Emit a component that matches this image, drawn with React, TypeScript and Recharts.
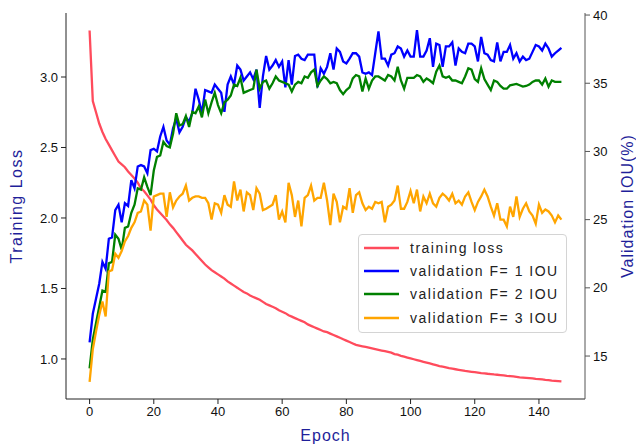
import { LineChart, Line, XAxis, YAxis, Legend, Label } from "recharts";

// training loss per epoch (left axis)
const trainingLoss = [
  3.33, 2.83, 2.75, 2.67, 2.61, 2.56, 2.52, 2.48, 2.44, 2.4,
  2.38, 2.36, 2.33, 2.305, 2.28, 2.25, 2.21, 2.19, 2.16, 2.13,
  2.09, 2.06, 2.035, 2.01, 1.985, 1.955, 1.93, 1.9, 1.87, 1.84,
  1.81, 1.79, 1.77, 1.745, 1.72, 1.695, 1.67, 1.65, 1.63, 1.615,
  1.6, 1.585, 1.57, 1.55, 1.535, 1.52, 1.505, 1.49, 1.475, 1.465,
  1.45, 1.44, 1.43, 1.42, 1.405, 1.39, 1.38, 1.37, 1.36, 1.345,
  1.335, 1.325, 1.31, 1.3, 1.29, 1.28, 1.27, 1.26, 1.245, 1.235,
  1.225, 1.215, 1.205, 1.195, 1.19, 1.18, 1.17, 1.16, 1.15, 1.14,
  1.13, 1.12, 1.11, 1.1, 1.095, 1.09, 1.085, 1.08, 1.075, 1.07,
  1.065, 1.06, 1.055, 1.05, 1.045, 1.035, 1.03, 1.022, 1.016, 1.01,
  1.004, 0.998, 0.992, 0.986, 0.98, 0.974, 0.968, 0.962, 0.956, 0.95,
  0.945, 0.94, 0.935, 0.931, 0.927, 0.923, 0.919, 0.915, 0.912, 0.909,
  0.906, 0.903, 0.9, 0.898, 0.895, 0.893, 0.89, 0.888, 0.886, 0.883,
  0.88, 0.878, 0.876, 0.873, 0.87, 0.868, 0.866, 0.864, 0.862, 0.859,
  0.857, 0.855, 0.852, 0.85, 0.847, 0.845, 0.843, 0.841,
];

// validation IOU (%) for F = 1, 2, 3 (right axis)
const iouF1 = [
  16.0, 18.1, 19.2, 20.3, 21.9, 21.4, 23.6, 23.7, 25.7, 26.1,
  24.8, 26.2, 26.0, 27.9, 27.3, 28.9, 29.0, 28.9, 28.4, 30.1,
  30.2, 30.0, 31.1, 31.8, 30.8, 30.5, 31.7, 32.4, 31.4, 31.8,
  32.5, 32.2, 32.8, 34.6, 33.8, 32.8, 34.5, 34.4, 34.3, 34.9,
  34.6, 34.3, 32.9, 34.9, 35.5, 34.9, 36.3, 36.0, 35.2, 35.5,
  35.8, 35.3, 36.0, 33.2, 35.5, 37.0, 36.0, 36.3, 36.7, 36.2,
  36.6, 34.7, 36.7, 34.9, 37.0, 37.1, 36.8, 36.7, 37.1, 37.1,
  37.1, 34.7, 36.1, 35.7, 36.2, 37.2, 36.0, 37.55, 37.3, 36.6,
  36.45, 36.8, 37.2, 37.2, 36.95, 35.8, 35.7, 35.8, 35.6, 37.2,
  38.8, 36.8, 36.8, 36.3, 37.1, 37.2, 37.7, 37.55, 36.95, 37.4,
  36.95, 36.95, 38.9, 36.95, 36.95, 37.4, 38.3, 36.2, 37.9, 37.8,
  36.2, 37.7, 37.7, 38.0, 36.3, 37.55, 37.3, 37.2, 37.9, 37.9,
  37.7, 36.6, 38.4, 37.2, 37.1, 36.7, 36.6, 38.0, 36.6, 37.3,
  37.3, 37.8, 36.8, 37.2, 36.6, 36.95, 36.7, 36.8, 37.3, 37.8,
  37.7, 37.4, 37.9, 37.55, 36.95, 37.2, 37.4, 37.6,
];

const iouF2 = [
  14.1, 16.2, 17.4, 18.6, 19.8, 19.7, 21.8, 21.9, 23.9, 23.6,
  22.8, 24.4, 24.5, 25.5, 26.1, 27.3, 27.2, 28.1, 27.4, 26.8,
  28.6, 29.6, 29.7, 30.7, 30.4, 30.3, 31.3, 32.8, 31.9, 32.0,
  32.6, 31.8, 32.9, 32.8, 33.3, 32.5, 33.8, 32.8, 33.6, 34.3,
  33.4, 32.8, 33.6, 33.8, 34.1, 34.9, 34.8, 35.4, 34.3, 34.4,
  34.5, 34.6, 36.0, 34.6, 35.1, 35.2, 34.6, 35.0, 35.5, 35.2,
  35.1, 35.0, 34.9, 34.4, 34.9, 35.1, 35.0, 35.5, 35.4, 35.8,
  36.0, 34.8, 35.2, 35.5, 35.3, 35.0, 35.1, 35.0, 34.5, 34.2,
  34.5, 34.7, 35.35, 35.6, 35.5, 34.4, 35.35, 34.6, 35.2, 35.5,
  35.5, 35.35, 35.2, 35.6, 35.5, 35.2, 36.2, 35.2, 34.6, 35.4,
  35.4, 35.4, 35.6, 35.5, 35.1, 35.35, 35.2, 35.0, 35.85, 36.3,
  35.5, 35.4, 35.5, 35.2, 35.2, 35.1, 35.0, 35.5, 36.1, 36.0,
  35.3, 35.1, 36.1, 35.3, 34.9, 34.5, 35.2, 35.1, 34.8, 34.6,
  34.6, 34.85, 34.9, 34.95, 34.85, 34.75, 34.8, 34.9, 35.1, 35.2,
  35.2, 34.9, 35.35, 34.75, 35.2, 35.1, 35.1, 35.1,
];

const iouF3 = [
  13.1, 15.5, 16.8, 18.0, 19.0, 17.9, 21.2, 21.3, 22.5, 22.2,
  22.7, 23.4, 23.8, 24.4, 24.8, 25.5, 25.6, 26.4, 26.1, 24.2,
  26.7, 26.8, 26.9, 26.9, 25.2, 27.0, 25.9, 26.4, 26.7, 26.9,
  27.5, 26.4, 26.6, 26.7, 26.7, 26.6, 26.6, 26.2, 25.0, 26.2,
  26.1, 25.5, 26.8, 26.1, 25.95, 27.8, 26.4, 27.2, 25.6, 27.0,
  26.8, 25.7, 27.3, 26.9, 25.7, 25.8, 25.95, 26.1, 26.8, 25.0,
  25.6, 24.8, 27.7, 26.8, 25.2, 26.4, 24.5, 26.6, 26.8, 27.5,
  26.4, 26.6, 26.6, 27.7, 26.4, 24.6, 26.9, 26.3, 24.8, 25.95,
  25.8, 27.3, 25.5, 26.8, 27.0, 26.2, 25.7, 25.95, 25.8, 26.3,
  26.2, 26.3, 24.8, 25.95, 26.1, 26.4, 27.5, 25.8, 25.8, 26.3,
  27.1, 26.2, 27.2, 25.6, 26.7, 26.2, 26.9, 26.2, 25.95, 26.6,
  26.9, 26.7, 26.4, 26.9, 26.2, 26.4, 26.1, 26.7, 27.0, 26.3,
  25.7, 26.3, 26.7, 27.2, 26.7, 25.95, 25.3, 26.2, 25.0, 25.0,
  24.5, 25.95, 25.2, 26.7, 25.2, 25.8, 26.2, 25.6, 25.3, 24.7,
  26.1, 25.5, 25.75, 25.6, 25.3, 24.8, 25.3, 25.0,
];

const epochTicks = [0, 20, 40, 60, 80, 100, 120, 140];
const lossTicks = [1.0, 1.5, 2.0, 2.5, 3.0];
const iouTicks = [15, 20, 25, 30, 35, 40];

const seriesNames = [
  "training loss",
  "validation F= 1 IOU",
  "validation F= 2 IOU",
  "validation F= 3 IOU",
];

const data = trainingLoss.map((loss, i) => ({
  epoch: i,
  loss,
  f1: iouF1[i],
  f2: iouF2[i],
  f3: iouF3[i],
}));

const font = "'Liberation Sans', Arial, Helvetica, sans-serif";
const labelColor = "#1f1f9a";
const colors = ["#ff4b5c", "#0000ff", "#008000", "#ffa500"];
const tickStyle = { fill: "#111", fontSize: 13, fontFamily: font };

const LegendBox = () => (
  <div
    style={{
      width: 209,
      height: 99,
      boxSizing: "border-box",
      border: "1px solid #d4d4d4",
      borderRadius: 4,
      background: "rgba(255,255,255,0.85)",
      padding: "1px 0 0 5px",
    }}
  >
    {seriesNames.map((name, i) => (
      <div key={name} style={{ display: "flex", alignItems: "center", height: 23.3 }}>
        <svg width={35} height={4} style={{ display: "block" }}>
          <line x1={0} y1={2} x2={35} y2={2} stroke={colors[i]} strokeWidth={2.5} />
        </svg>
        <span
          style={{
            marginLeft: 11,
            fontFamily: font,
            fontSize: 14,
            letterSpacing: 1.5,
            color: "#222",
            whiteSpace: "pre",
          }}
        >
          {name}
        </span>
      </div>
    ))}
  </div>
);

const EpochLabel = ({ viewBox }: any) => (
  <text
    x={viewBox.x + viewBox.width / 2}
    y={viewBox.y + 42}
    textAnchor="middle"
    fill={labelColor}
    fontSize={16}
    fontFamily={font}
    letterSpacing={1}
  >
    Epoch
  </text>
);

const LossLabel = ({ viewBox }: any) => {
  const x = viewBox.x + 22;
  const y = viewBox.y + viewBox.height / 2;
  return (
    <text
      x={x}
      y={y}
      transform={`rotate(-90 ${x} ${y})`}
      textAnchor="middle"
      fill={labelColor}
      fontSize={16}
      fontFamily={font}
      letterSpacing={1.5}
    >
      Training Loss
    </text>
  );
};

const IouLabel = ({ viewBox }: any) => {
  const x = viewBox.x + 48;
  const y = viewBox.y + viewBox.height / 2;
  return (
    <text
      x={x}
      y={y}
      transform={`rotate(-90 ${x} ${y})`}
      textAnchor="middle"
      fill={labelColor}
      fontSize={16}
      fontFamily={font}
      letterSpacing={1}
    >
      Validation IOU(%)
    </text>
  );
};

const App = () => {
  return (
    <div style={{ position: "absolute", left: 0, top: 0 }}>
      <LineChart width={636} height={445} data={data} margin={{ top: 13, right: 0, bottom: 0, left: 0 }}>
        <XAxis
          dataKey="epoch"
          type="number"
          domain={[-7.35, 154.35]}
          ticks={epochTicks}
          height={46}
          tickSize={5}
          tickMargin={3}
          axisLine={{ stroke: "#222" }}
          tickLine={{ stroke: "#222" }}
          tick={tickStyle}
        >
          <Label content={EpochLabel} />
        </XAxis>
        <XAxis
          xAxisId="top"
          orientation="top"
          type="number"
          domain={[-7.35, 154.35]}
          height={0}
          tick={false}
          tickLine={false}
          axisLine={{ stroke: "#222" }}
        />
        <YAxis
          yAxisId="loss"
          type="number"
          domain={[0.716, 3.454]}
          ticks={lossTicks}
          tickFormatter={(v: number) => v.toFixed(1)}
          width={66}
          tickSize={5}
          tickMargin={3}
          axisLine={{ stroke: "#222" }}
          tickLine={{ stroke: "#222" }}
          tick={tickStyle}
        >
          <Label content={LossLabel} />
        </YAxis>
        <YAxis
          yAxisId="iou"
          orientation="right"
          type="number"
          domain={[11.85, 40.15]}
          ticks={iouTicks}
          width={51}
          tickSize={5}
          tickMargin={3}
          axisLine={{ stroke: "#555" }}
          tickLine={{ stroke: "#555" }}
          tick={tickStyle}
        >
          <Label content={IouLabel} />
        </YAxis>
        <Line yAxisId="loss" dataKey="loss" name={seriesNames[0]} stroke={colors[0]} strokeWidth={2.3} dot={false} isAnimationActive={false} />
        <Line yAxisId="iou" dataKey="f1" name={seriesNames[1]} stroke={colors[1]} strokeWidth={2.3} dot={false} isAnimationActive={false} />
        <Line yAxisId="iou" dataKey="f2" name={seriesNames[2]} stroke={colors[2]} strokeWidth={2.3} dot={false} isAnimationActive={false} />
        <Line yAxisId="iou" dataKey="f3" name={seriesNames[3]} stroke={colors[3]} strokeWidth={2.3} dot={false} isAnimationActive={false} />
        <Legend
          layout="vertical"
          align="center"
          verticalAlign="middle"
          content={() => <LegendBox />}
          wrapperStyle={{ left: 358, top: 234, width: 209, height: 99 }}
        />
      </LineChart>
    </div>
  );
};

export default App;
